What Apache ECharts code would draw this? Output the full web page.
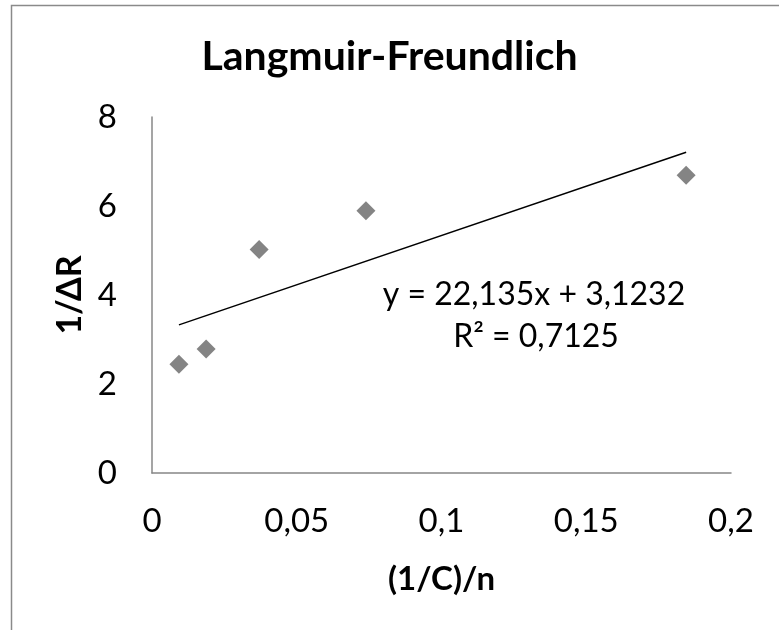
<!DOCTYPE html>
<html>
<head>
<meta charset="utf-8">
<script src="https://cdn.jsdelivr.net/npm/echarts@6/dist/echarts.min.js"></script>
<style>
html,body{margin:0;padding:0;background:#fff;}
#chart{width:779px;height:630px;}
</style>
</head>
<body>
<div id="chart"></div>
<script>
// ---- data ----
var titleText = 'Langmuir-Freundlich';
var xAxisTitle = '(1/C)/n';
var yAxisTitle = '1/\u0394R';
var xValues = [0.0093, 0.0187, 0.0370, 0.0739, 0.1845];
var yValues = [2.445, 2.789, 5.025, 5.893, 6.689];
var trendSlope = 22.135;
var trendIntercept = 3.1232;
var equationLines = ['y = 22,135x + 3,1232', 'R\u00B2 = 0,7125'];
var xTicks = [0, 0.05, 0.1, 0.15, 0.2];
var yTicks = [0, 2, 4, 6, 8];

var FONT = 'Lato, "Open Sans", sans-serif';
function fmt(v){ return String(v).replace('.', ','); }

var points = xValues.map(function(x,i){ return [x, yValues[i]]; });
var xMin = Math.min.apply(null, xValues), xMax = Math.max.apply(null, xValues);
var trend = [[xMin, trendSlope*xMin + trendIntercept],[xMax, trendSlope*xMax + trendIntercept]];

var chart = echarts.init(document.getElementById('chart'), null, {renderer:'canvas'});
chart.setOption({
  backgroundColor:'#fff',
  animation:false,
  title:{
    text:titleText, left:'center', top:31,
    textStyle:{fontFamily:FONT, fontWeight:'bold', fontSize:41, color:'#000'}
  },
  grid:{left:152, right:48, top:117, bottom:157},
  xAxis:{
    type:'value', min:xTicks[0], max:xTicks[xTicks.length-1], interval:xTicks[1]-xTicks[0],
    name:xAxisTitle, nameLocation:'middle', nameGap:90,
    nameTextStyle:{fontFamily:FONT, fontWeight:'bold', fontSize:33, color:'#000'},
    axisLine:{show:true, lineStyle:{color:'#878787', width:1.5}},
    axisTick:{show:false},
    splitLine:{show:false},
    axisLabel:{fontFamily:FONT, fontSize:33, color:'#000', margin:32,
      formatter:function(v){ return fmt(v); }}
  },
  yAxis:{
    type:'value', min:yTicks[0], max:yTicks[yTicks.length-1], interval:yTicks[1]-yTicks[0],
    name:yAxisTitle, nameLocation:'middle', nameGap:64, nameRotate:90,
    nameTextStyle:{fontFamily:FONT, fontWeight:'bold', fontSize:34, color:'#000'},
    axisLine:{show:true, lineStyle:{color:'#878787', width:1.5}},
    axisTick:{show:false},
    splitLine:{show:false},
    axisLabel:{fontFamily:FONT, fontSize:33, color:'#000', margin:35,
      formatter:function(v){ return fmt(v); }}
  },
  series:[
    {
      type:'line', data:trend, showSymbol:false, symbol:'none',
      lineStyle:{color:'#000', width:1.5}, silent:true, z:2
    },
    {
      type:'scatter', data:points, symbol:'diamond', symbolSize:[19,19],
      itemStyle:{color:'#656565'}, z:3
    }
  ],
  graphic:[
    {
      type:'rect', left:9, top:3, shape:{width:769, height:626},
      style:{fill:'none', stroke:'#8a8a8a', lineWidth:1.5}, silent:true
    },
    {
      type:'text', x:534, y:295,
      style:{text:equationLines[0], fontFamily:FONT, fontSize:32, fill:'#000',
        align:'center', verticalAlign:'middle'}
    },
    {
      type:'text', x:536, y:337,
      style:{text:equationLines[1], fontFamily:FONT, fontSize:32, fill:'#000',
        align:'center', verticalAlign:'middle'}
    }
  ]
});
</script>
</body>
</html>
